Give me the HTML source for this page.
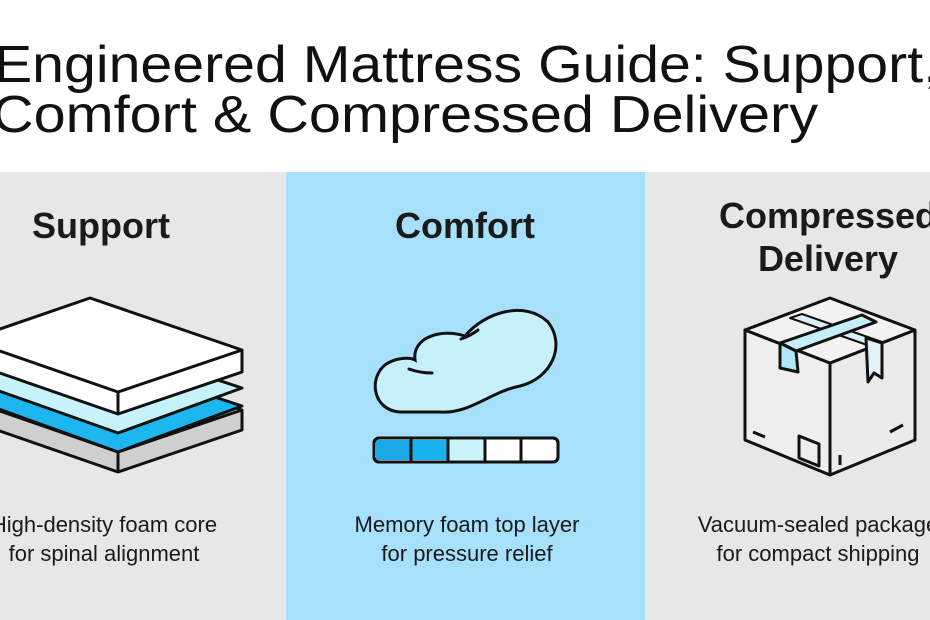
<!DOCTYPE html>
<html><head><style>
body{margin:0;width:930px;height:620px;overflow:hidden;background:#fff}
svg{display:block}
</style></head><body>
<svg width="930" height="620" viewBox="0 0 930 620" xmlns="http://www.w3.org/2000/svg" font-family="Liberation Sans, sans-serif">
<rect width="930" height="620" fill="#fff"/>
<rect x="0" y="172" width="286" height="448" fill="#e7e7e7"/>
<rect x="286" y="172" width="359" height="448" fill="#a6e0fa"/>
<rect x="645" y="172" width="285" height="448" fill="#e7e7e7"/>
<text x="-6" y="82" font-size="52" fill="#111" textLength="945" lengthAdjust="spacingAndGlyphs">Engineered Mattress Guide: Support,</text>
<text x="-8" y="132" font-size="52" fill="#111" textLength="826" lengthAdjust="spacingAndGlyphs">Comfort &amp; Compressed Delivery</text>
<g font-size="36" font-weight="bold" fill="#1a1a1a" text-anchor="middle">
<text x="101" y="238">Support</text>
<text x="465" y="238">Comfort</text>
<text x="828" y="228">Compressed</text>
<text x="828" y="271">Delivery</text>
</g>
<g font-size="22" fill="#1a1a1a" text-anchor="middle">
<text x="104" y="532">High-density foam core</text>
<text x="104" y="561">for spinal alignment</text>
<text x="467" y="532">Memory foam top layer</text>
<text x="467" y="561">for pressure relief</text>
<text x="818" y="532">Vacuum-sealed package</text>
<text x="818" y="561">for compact shipping</text>
</g>
<g stroke="#111" stroke-width="3" stroke-linejoin="round">
<polygon points="-32,400 90,358 242,410 242,430 118,472 -32,420" fill="#cfcfcf"/>
<polyline points="-32,400 118,452 242,410" fill="none"/>
<line x1="118" y1="452" x2="118" y2="472"/>
<polygon points="-32,398 90,356 242,406 118,452" fill="#1db6ef"/>
<polygon points="-32,380 90,338 242,388 118,433" fill="#c6f3fa"/>
<polygon points="-32,340 90,298 242,350 242,372 118,414 -32,362" fill="#fff"/>
<polyline points="-32,340 118,392 242,350" fill="none"/>
<line x1="118" y1="392" x2="118" y2="414"/>
</g>
<g stroke="#111" stroke-width="3" fill="#c6f0fa" stroke-linecap="round">
<path d="M400,412 C370,410 368,372 390,362 C398,358 410,357 415,360 C412,338 440,328 465,336 C485,312 525,300 548,322 C566,345 552,378 520,386 C490,392 470,414 440,412 Z"/>
<path d="M409,369 Q420,373 432,373" fill="none"/>
<path d="M461,339 Q470,336 478,330" fill="none"/>
</g>
<g stroke="#111" stroke-width="3">
<rect x="374" y="438" width="184" height="24" rx="5" fill="#fff"/>
<rect x="376" y="440" width="35" height="20" fill="#1ba8e8" stroke="none"/>
<rect x="411" y="440" width="37" height="20" fill="#1ab2ee" stroke="none"/>
<rect x="448" y="440" width="37" height="20" fill="#c8f4fa" stroke="none"/>
<line x1="411" y1="438" x2="411" y2="462"/><line x1="448" y1="438" x2="448" y2="462"/>
<line x1="485" y1="438" x2="485" y2="462"/><line x1="521" y1="438" x2="521" y2="462"/>
<rect x="374" y="438" width="184" height="24" rx="5" fill="none"/>
</g>
<g stroke="#111" stroke-width="3" stroke-linejoin="round" fill="#eeeeee">
<polygon points="745,330 830,363 830,475 745,440"/>
<polygon points="830,363 915,330 915,440 830,475" fill="#ebebeb"/>
<polygon points="745,330 830,298 915,330 830,363" fill="#f2f2f2"/>
<polygon points="790,318 802,314 882,342 870,346" fill="#d8f0f8" stroke-width="2"/>
<polygon points="780,343 862,315 876,322 796,351" fill="#c6eef8"/>
<polygon points="780,343 796,351 798,372 780,368" fill="#aee6f8"/>
<polygon points="866,338 882,343 882,378 874,373 868,382" fill="#e2f0f8"/>
<polygon points="799,436 819,444 819,466 799,458" fill="none"/>
<line x1="753" y1="432" x2="765" y2="437"/><line x1="890" y1="432" x2="903" y2="425"/>
<line x1="840" y1="455" x2="840" y2="465"/>
</g>
</svg>
</body></html>
